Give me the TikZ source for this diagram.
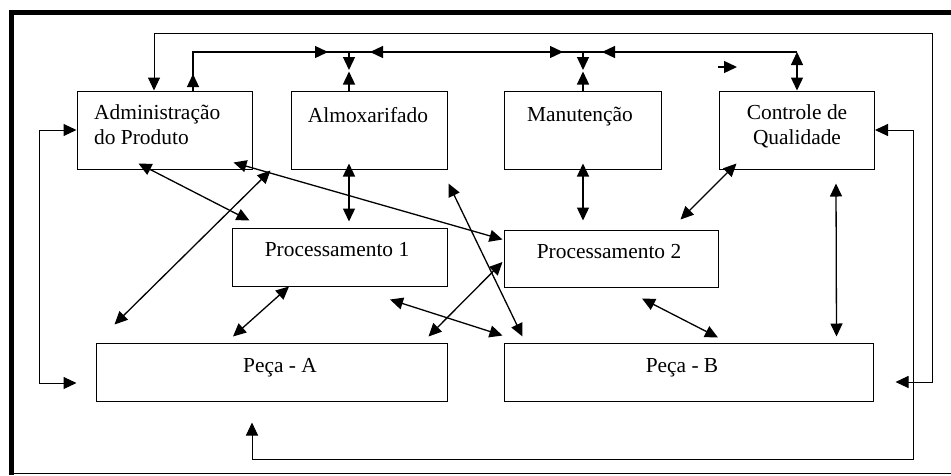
\documentclass[tikz,border=0pt]{standalone}
\usepackage{fontspec}
\setmainfont{Liberation Serif}
\usetikzlibrary{arrows.meta}

\tikzset{
  caixa/.style={draw, line width=1pt, inner sep=0pt},
  rotulo/.style={inner sep=0pt},
  seta/.style={{Triangle[length=13pt,width=12pt]}-{Triangle[length=13pt,width=12pt]}, line width=1.3pt},
  ponta/.style={-{Triangle[length=13pt,width=12pt]}, line width=1.3pt}
}

\begin{document}
\begin{tikzpicture}[x=1pt,y=-1pt,font=\fontsize{21.4}{25}\selectfont]

\useasboundingbox (0,0) rectangle (951,475);

% moldura
\draw[line width=5pt] (11.5,475) -- (11.5,12.5) -- (951,12.5);
\draw[line width=1pt] (11.5,473) -- (951,473);

% caixas
\node[caixa, minimum width=175pt, minimum height=78pt] (adm) at (164.5,130) {};
\node[caixa, minimum width=156pt, minimum height=78pt] (alm) at (369,130) {};
\node[caixa, minimum width=157pt, minimum height=78pt] (man) at (582.5,130) {};
\node[caixa, minimum width=155pt, minimum height=78pt] (ctl) at (797,130) {};
\node[caixa, minimum width=215pt, minimum height=58pt] (p1) at (339.5,257) {};
\node[caixa, minimum width=214pt, minimum height=57pt] (p2) at (611,258.5) {};
\node[caixa, minimum width=351pt, minimum height=58pt] (pa) at (271.5,372) {};
\node[caixa, minimum width=369pt, minimum height=58pt] (pb) at (688.5,372) {};

% textos
\node[rotulo, anchor=north west, align=left] (admtxt) at (94,104.4) {Administração\\do Produto};
\node[rotulo, anchor=base] (almtxt) at (368,122) {Almoxarifado};
\node[rotulo, anchor=base] (mantxt) at (580,121) {Manutenção};
\node[rotulo, anchor=north, align=center] (ctltxt) at (797,104.4) {Controle de\\Qualidade};
\node[rotulo, anchor=base] (p1txt) at (337,256) {Processamento 1};
\node[rotulo, anchor=base] (p2txt) at (609,258) {Processamento 2};
\node[rotulo, anchor=base] (patxt) at (280,372) {Peça - A};
\node[rotulo, anchor=base] (pbtxt) at (682,372) {Peça - B};

% barramento superior
\coordinate (bus) at (797,52);
\coordinate (solta) at (718,67);
\draw[line width=1.3pt] ([xshift=28.5pt]adm.north) -- (193,52) -- (bus);
\draw[ponta] ([xshift=28.5pt]adm.north) -- (193,74);
\draw[ponta] (310,52) -- (328,52);
\draw[ponta] (388,52) -- (370,52);
\draw[ponta] (545,52) -- (563,52);
\draw[ponta] (620,52) -- (602,52);
\draw[ponta] (349,52) -- (349,70);
\draw[ponta] ([xshift=-20pt]alm.north) -- ++(0,-19);
\draw[ponta] (583,52) -- (583,70);
\draw[ponta] ([xshift=0.5pt]man.north) -- ++(0,-19);
\draw[seta] (bus) -- (ctl.north);
\draw[ponta] (solta) -- ++(19,0);

% lacos externos
\draw[seta, line width=1pt] ([xshift=-10.5pt]adm.north) -- (154,33) -- (932,33) -- (932,382) -- ([shift={(22,10)}]pb.east);
\draw[seta, line width=1pt] ([shift={(-19,11)}]pa.west) -- (39,383) -- (39,130) -- (adm.west);
\draw[seta, line width=1pt] ([shift={(-19.5,21)}]pa.south) -- (252,459) -- (913,459) -- (913,130) -- (ctl.east);

% ligacoes internas
\draw[seta] ([shift={(-26,-6)}]adm.south) -- ([shift={(18,-7)}]p1.north west);
\draw[seta] ([shift={(-19,-7)}]adm.south east) -- ([shift={(-1,10)}]p2.north west);
\draw[seta] ([shift={(-20,1)}]alm.south west) -- ([shift={(19,-18)}]pa.north west);
\draw[seta] ([shift={(-20,-6)}]alm.south) -- ([shift={(9.5,-6)}]p1.north);
\draw[seta] ([shift={(1,14)}]alm.south east) -- ([shift={(19,-6)}]pb.north west);
\draw[seta] ([shift={(-50.5,0)}]p1.south) -- ([shift={(-38.5,-6)}]pa.north);
\draw[seta] ([shift={(50.5,13)}]p1.south) -- ([shift={(-1,-7)}]pb.north west);
\draw[seta] ([shift={(-1,3.5)}]p2.west) -- ([shift={(-19,-6)}]pa.north east);
\draw[seta] ([shift={(0.5,-6)}]man.south) -- ([shift={(-28,-9)}]p2.north);
\draw[seta] ([shift={(17.5,-6)}]ctl.south west) -- ([shift={(-38,-10)}]p2.north east);
\draw[seta] ([shift={(31,11)}]p2.south) -- ([shift={(29.5,-5)}]pb.north);
\draw[seta] ([shift={(39,14)}]ctl.south) -- ([shift={(-37,-6)}]pb.north east);

\end{tikzpicture}
\end{document}
